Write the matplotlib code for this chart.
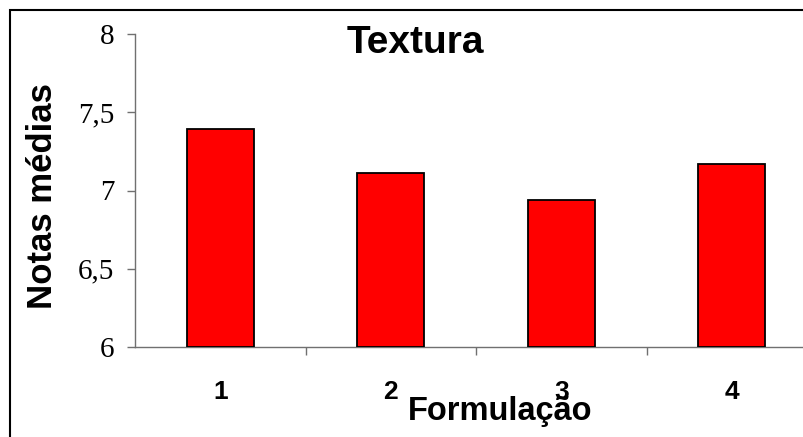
import matplotlib
matplotlib.use("Agg")
import matplotlib.pyplot as plt
from matplotlib.patches import Rectangle

# data
formulacoes = ["1", "2", "3", "4"]
notas = [7.39, 7.11, 6.94, 7.17]
y_ticks = [6, 6.5, 7, 7.5, 8]
y_labels = ["6", "6,5", "7", "7,5", "8"]

W, H = 804, 437
fig = plt.figure(figsize=(W / 100, H / 100), dpi=100)

# outer chart frame (cut at right and bottom)
fig.patches.append(Rectangle((10 / W, -0.1), 1.2, 1.1 - 10 / H,
                             transform=fig.transFigure, fill=False,
                             edgecolor="black", linewidth=1.5))

ax = fig.add_axes([135 / W, 90 / H, 682 / W, 313 / H])
pos = list(range(len(formulacoes)))
ax.bar(pos, [v - 6 for v in notas], bottom=6, width=0.395,
       color="#ff0000", edgecolor="black", linewidth=1.3, zorder=3)

ax.set_xlim(-0.5, len(formulacoes) - 0.5)
ax.set_ylim(6, 8)

for s in ["top", "right"]:
    ax.spines[s].set_visible(False)
for s in ["left", "bottom"]:
    ax.spines[s].set_color("#707070")
    ax.spines[s].set_linewidth(1.0)

# y ticks
ax.set_yticks(y_ticks)
ax.set_yticklabels(y_labels, family="Liberation Serif", fontsize=21)
ax.tick_params(axis="y", direction="out", length=6, width=1.0,
               color="#707070", pad=9)

# x ticks: marks between categories, labels at centers
ax.set_xticks([p + 0.5 for p in pos[:-1]])
ax.set_xticklabels([])
ax.set_xticks(pos, minor=True)
ax.set_xticklabels(formulacoes, minor=True, family="Liberation Sans",
                   fontweight="bold", fontsize=19)
ax.tick_params(axis="x", which="major", direction="out", length=6,
               width=1.0, color="#707070")
ax.tick_params(axis="x", which="minor", length=0, pad=24)

fig.text(415 / W, 1 - 43 / H, "Textura", ha="center", va="center",
         family="Liberation Sans", fontweight="bold", fontsize=28)
fig.text(43 / W, 1 - 196 / H, "Notas médias", ha="center", va="center",
         rotation=90, family="Liberation Sans", fontweight="bold", fontsize=25)
fig.text(500 / W, 1 - 420 / H, "Formulação", ha="center", va="baseline",
         family="Liberation Sans", fontweight="bold", fontsize=23.5)

fig.savefig("out.png", dpi=100)
